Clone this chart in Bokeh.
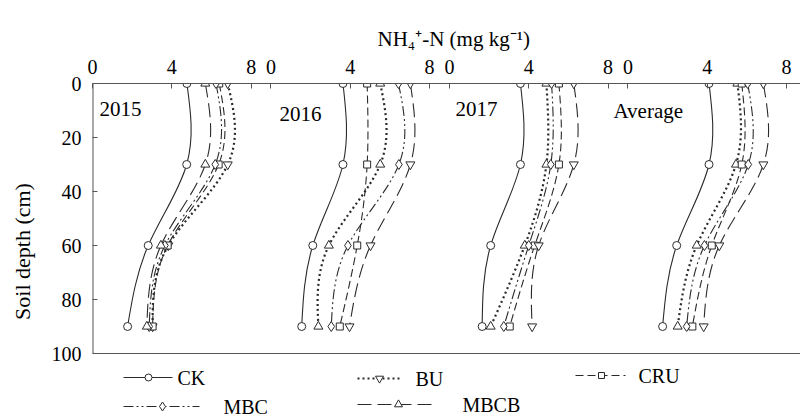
import numpy as np
from bokeh.plotting import figure
from bokeh.models import Range1d, FixedTicker, Label, Span, ColumnDataSource
from bokeh.core.properties import value
from bokeh.embed import file_html
from bokeh.resources import INLINE

# ---------------- data ----------------
depths = [0, 30, 60, 90]
panels = ["2015", "2016", "2017", "Average"]
treatments = ["CK", "BU", "CRU", "MBC", "MBCB"]
x_tick_labels = ["0", "4", "8"]
y_ticks = [0, 20, 40, 60, 80, 100]
x_title = "NH\u2084\u207a-N (mg kg\u207b\u00b9)"
y_title = "Soil depth (cm)"

ck_2015 = [4.76, 4.75, 2.81, 1.77]
bu_2015 = [6.82, 6.82, 3.82, 3.03]
cru_2015 = [6.39, 6.36, 3.79, 3.03]
mbc_2015 = [6.23, 6.19, 3.65, 2.86]
mbcb_2015 = [5.69, 5.69, 3.45, 2.74]

ck_2016 = [3.63, 3.63, 2.11, 1.55]
bu_2016 = [5.51, 5.51, 2.92, 2.39]
cru_2016 = [4.85, 4.85, 4.35, 3.47]
mbc_2016 = [6.43, 6.45, 3.88, 3.04]
mbcb_2016 = [7.03, 7.03, 5.02, 3.96]

ck_2017 = [3.58, 3.58, 2.08, 1.65]
bu_2017 = [4.89, 4.89, 3.80, 2.08]
cru_2017 = [5.52, 5.52, 4.30, 3.04]
mbc_2017 = [5.15, 5.11, 4.00, 2.74]
mbcb_2017 = [6.27, 6.27, 4.50, 4.17]

ck_avg = [4.09, 4.09, 2.46, 1.75]
bu_avg = [5.52, 5.45, 3.47, 2.51]
cru_avg = [5.74, 5.74, 4.23, 3.25]
mbc_avg = [6.04, 6.07, 3.86, 2.96]
mbcb_avg = [6.83, 6.83, 4.61, 3.82]

table = {
    "CK": [ck_2015, ck_2016, ck_2017, ck_avg],
    "BU": [bu_2015, bu_2016, bu_2017, bu_avg],
    "CRU": [cru_2015, cru_2016, cru_2017, cru_avg],
    "MBC": [mbc_2015, mbc_2016, mbc_2017, mbc_avg],
    "MBCB": [mbcb_2015, mbcb_2016, mbcb_2017, mbcb_avg],
}

# ---------------- styles / layout ----------------
INK = "#2a2a2a"
AXC = "#555555"
FONT = "Liberation Serif"
PANEL_W = 9.0  # each panel occupies 9 x-units of the shared axis
line_style = {
    "CK": dict(line_dash="solid", line_width=1.1),
    "BU": dict(line_dash="2 3", line_width=2.2),
    "CRU": dict(line_dash="8 4", line_width=1.1),
    "MBC": dict(line_dash="10 3 2 3 2 3", line_width=1.1),
    "MBCB": dict(line_dash="14 6", line_width=1.1),
}
markers = {
    "CK": ["circle"] * 4,
    "BU": ["inverted_triangle", "triangle", "triangle", "triangle"],
    "CRU": ["square"] * 4,
    "MBC": ["diamond"] * 4,
    "MBCB": ["triangle", "inverted_triangle", "inverted_triangle", "inverted_triangle"],
}
msize = {"circle": 8, "triangle": 9, "inverted_triangle": 9, "square": 7, "diamond": 10}

# legend layout in page pixels: (line start, line end, marker x, text x, centre y)
legend_layout = {
    "CK": (123, 172, 148, 177, 377),
    "BU": (357, 402, 379, 415, 378),
    "CRU": (575, 625, 601, 638, 375),
    "MBC": (123, 199, 162, 223, 406),
    "MBCB": (357, 432, 398, 462, 404),
}

W, H = 800, 419
LB, TB = 92, 83
SX = 19.83   # px per mg/kg
SY = 2.70    # px per cm of depth
FRAME_W = W - LB
FRAME_H = H - TB
X_END = FRAME_W / SX
Y_END = FRAME_H / SY
PX0, PY0 = LB, TB  # page coords of frame top-left


def dx(px):
    return (px - PX0) / SX


def dy(py):
    return (py - PY0) / SY


def spline_segments(xs, ys):
    xs = np.asarray(xs, float)
    ys = np.asarray(ys, float)
    n = len(ys)
    h = np.diff(ys)
    A = np.zeros((n, n))
    r = np.zeros(n)
    A[0, 0] = 1.0
    A[-1, -1] = 1.0
    for i in range(1, n - 1):
        A[i, i - 1] = h[i - 1]
        A[i, i] = 2 * (h[i - 1] + h[i])
        A[i, i + 1] = h[i]
        r[i] = 6 * ((xs[i + 1] - xs[i]) / h[i] - (xs[i] - xs[i - 1]) / h[i - 1])
    M = np.linalg.solve(A, r)
    seg = dict(x0=[], y0=[], x1=[], y1=[], cx0=[], cy0=[], cx1=[], cy1=[])
    for i in range(n - 1):
        d = (xs[i + 1] - xs[i]) / h[i]
        s0 = d - h[i] * (2 * M[i] + M[i + 1]) / 6
        s1 = d + h[i] * (M[i] + 2 * M[i + 1]) / 6
        seg["x0"].append(xs[i]); seg["y0"].append(ys[i])
        seg["x1"].append(xs[i + 1]); seg["y1"].append(ys[i + 1])
        seg["cx0"].append(xs[i] + s0 * h[i] / 3); seg["cy0"].append(ys[i] + h[i] / 3)
        seg["cx1"].append(xs[i + 1] - s1 * h[i] / 3); seg["cy1"].append(ys[i + 1] - h[i] / 3)
    return seg


p = figure(width=W, height=H, output_backend="svg", toolbar_location=None,
           x_range=Range1d(0, X_END), y_range=Range1d(Y_END, 0),
           x_axis_location="above", min_border_left=LB, min_border_top=TB,
           min_border_right=0, min_border_bottom=0)
p.grid.visible = False
p.outline_line_color = None
p.background_fill_color = "white"
p.border_fill_color = "white"

# title (x-axis quantity) above the top axis
p.title.text = x_title
p.title.align = "left"
p.title.offset = 377 - LB
p.title.text_font = FONT
p.title.text_font_size = "21px"
p.title.text_font_style = "normal"
p.title.text_color = "black"
p.title.standoff = 12

# axes
ticks = []
overrides = {}
for k in range(len(panels)):
    for j, lab in enumerate(x_tick_labels):
        t = k * PANEL_W + 4 * j
        ticks.append(t)
        overrides[t] = lab
xa = p.xaxis[0]
xa.ticker = FixedTicker(ticks=ticks)
xa.major_label_overrides = overrides
ya = p.yaxis[0]
ya.ticker = FixedTicker(ticks=y_ticks)
ya.axis_label = y_title
for ax in (xa, ya):
    ax.axis_line_color = AXC
    ax.major_tick_line_color = AXC
    ax.major_tick_in = 5
    ax.major_tick_out = 0
    ax.minor_tick_line_color = None
    ax.major_label_text_font = FONT
    ax.major_label_text_font_size = "20px"
    ax.major_label_text_color = "black"
ya.axis_line_color = None
xa.major_label_standoff = 10
ya.major_label_standoff = 11
ya.axis_label_text_font = FONT
ya.axis_label_text_font_size = "22px"
ya.axis_label_text_font_style = "normal"
ya.axis_label_text_color = "black"
ya.axis_label_standoff = 14

# frame: left edge (0..100 cm) and bottom edge
p.segment(x0=[0], y0=[0], x1=[0], y1=[100], line_color=AXC, line_width=2)
p.add_layout(Span(location=100, dimension="width", line_color=AXC, line_width=1))

for t in treatments:
    for k in range(len(panels)):
        vals = np.asarray(table[t][k], float) + k * PANEL_W
        seg = spline_segments(vals, depths)
        p.bezier(x0="x0", y0="y0", x1="x1", y1="y1", cx0="cx0", cy0="cy0",
                 cx1="cx1", cy1="cy1", source=ColumnDataSource(seg),
                 line_color=INK, **line_style[t])
    for k in range(len(panels)):
        vals = np.asarray(table[t][k], float) + k * PANEL_W
        m = markers[t][k]
        p.scatter(x=vals, y=depths, marker=m, size=msize[m],
                  fill_color="white", line_color=INK, line_width=1)

# legend (drawn by hand below the frame)
for t in treatments:
    l0, l1, mx, tx, cy = legend_layout[t]
    p.line(x=[dx(l0), dx(l1)], y=[dy(cy), dy(cy)], line_color=INK, **line_style[t])
    m = markers[t][0]
    p.scatter(x=[dx(mx)], y=[dy(cy)], marker=m, size=msize[m] - 1,
              fill_color="white", line_color=INK, line_width=1)
    p.text(x=[dx(tx)], y=[dy(cy)], text=[t], text_font=value(FONT),
           text_font_size="20px", text_baseline="middle", text_color="black")

# panel titles
year_pos = [(99, 108), (279, 113), (455, 108), (613, 110)]
for name, (px, py) in zip(panels, year_pos):
    p.add_layout(Label(x=dx(px), y=dy(py), text=name, text_font=FONT,
                       text_font_size="21px", text_baseline="alphabetic",
                       text_color="black"))

open("out.html", "w").write(file_html(p, INLINE))
